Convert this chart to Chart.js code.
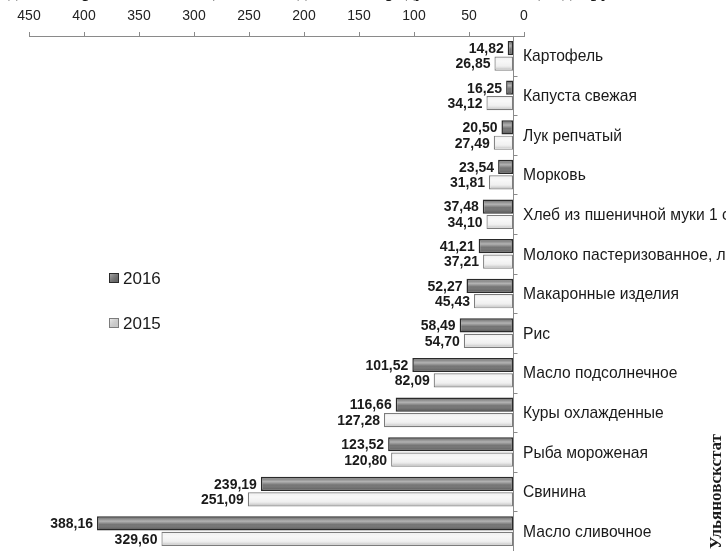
<!DOCTYPE html>
<html lang="ru">
<head>
<meta charset="utf-8">
<title>Цены</title>
<script src="https://cdn.jsdelivr.net/npm/chart.js@4.4.1/dist/chart.umd.min.js"></script>
<style>
  html,body{margin:0;padding:0;background:#fff;}
  #wrap{position:relative;width:726px;height:551px;overflow:hidden;}
</style>
</head>
<body>
<div id="wrap"><canvas id="chart" width="726" height="551"></canvas></div>
<script>
// ---- данные ----
const categories = [
  'Картофель',
  'Капуста свежая',
  'Лук репчатый',
  'Морковь',
  'Хлеб из пшеничной муки 1 сорта',
  'Молоко пастеризованное, литр',
  'Макаронные изделия',
  'Рис',
  'Масло подсолнечное',
  'Куры охлажденные',
  'Рыба мороженая',
  'Свинина',
  'Масло сливочное'
];
const values2016 = [14.82, 16.25, 20.50, 23.54, 37.48, 41.21, 52.27, 58.49, 101.52, 116.66, 123.52, 239.19, 388.16];
const values2015 = [26.85, 34.12, 27.49, 31.81, 34.10, 37.21, 45.43, 54.70, 82.09, 127.28, 120.80, 251.09, 329.60];
const xTickValues = [0, 50, 100, 150, 200, 250, 300, 350, 400, 450];
const seriesLabels = ['2016', '2015'];
const titleText = 'Средние потребительские цены на отдельные продукты на конец года, руб.';
const sourceText = 'Ульяновскстат';

const AXIS_CROSS = 10;   // вертикальная ось пересекает шкалу не в нуле
const FONT = '"Liberation Sans", Arial, sans-serif';

const fmt = v => v.toFixed(2).replace('.', ',');

const COL16 = {fill:'#747474', border:'#2a2a2a'};
const COL15 = {fill:'#f2f2f2', border:'#7c7c7c'};

// подписи значений слева от столбиков
const valueLabels = {
  id:'valueLabels',
  afterDatasetsDraw(chart){
    const ctx = chart.ctx;
    ctx.save();
    // блик/тень на столбиках
    chart.data.datasets.forEach((ds,di)=>{
      chart.getDatasetMeta(di).data.forEach(bar=>{
        const l = Math.min(bar.x, bar.base)+1.5, r = Math.max(bar.x, bar.base)-1.5;
        const t = bar.y-bar.height/2+1.5, b = bar.y+bar.height/2-1.5;
        if(r<=l) return;
        const g = ctx.createLinearGradient(0,t,0,b);
        g.addColorStop(0,'rgba(255,255,255,0.05)');
        g.addColorStop(0.3,'rgba(255,255,255,0.45)');
        g.addColorStop(0.6,'rgba(255,255,255,0.0)');
        g.addColorStop(1,'rgba(0,0,0,0.18)');
        ctx.fillStyle = g;
        ctx.fillRect(l,t,r-l,b-t);
      });
    });
    ctx.font = 'bold 14px '+FONT;
    ctx.fillStyle = '#1a1a1a';
    ctx.textAlign = 'right';
    ctx.textBaseline = 'middle';
    chart.data.datasets.forEach((ds,di)=>{
      chart.getDatasetMeta(di).data.forEach((bar,i)=>{
        ctx.fillText(fmt(ds.data[i]), Math.min(bar.x, bar.base)-4, bar.y+1);
      });
    });
    ctx.restore();
  }
};

// вертикальная ось, подписи категорий, легенда, заголовок, источник
const decor = {
  id:'decor',
  afterDraw(chart){
    const ctx = chart.ctx, xs = chart.scales.x, ys = chart.scales.y, ca = chart.chartArea;
    const x0 = Math.round(xs.getPixelForValue(AXIS_CROSS))+0.5;
    const step = (ca.bottom-ca.top)/categories.length;
    ctx.save();
    ctx.strokeStyle = '#8a8a8a';
    ctx.lineWidth = 1;
    ctx.beginPath();
    ctx.moveTo(x0, ca.top);
    ctx.lineTo(x0, ca.bottom);
    for(let i=1;i<categories.length;i++){
      const y = Math.round(ys.getPixelForValue(i)-step/2)+0.5;
      ctx.moveTo(x0, y); ctx.lineTo(x0+4, y);
    }
    ctx.stroke();

    // подписи категорий
    ctx.fillStyle = '#1a1a1a';
    ctx.font = '17px '+FONT;
    ctx.textAlign = 'left';
    ctx.textBaseline = 'middle';
    categories.forEach((c,i)=>{
      const y = ys.getPixelForValue(i);
      ctx.save();
      ctx.translate(ca.right-1, y+1);
      ctx.scale(0.92,1);
      ctx.fillText(c, 0, 0);
      ctx.restore();
    });

    // легенда
    const leg = [{y:278, c:COL16}, {y:323, c:COL15}];
    ctx.font = '17px '+FONT;
    leg.forEach((l,i)=>{
      ctx.fillStyle = l.c.fill;
      ctx.fillRect(109, l.y-5, 10, 10);
      const g = ctx.createLinearGradient(109,l.y-5,119,l.y+5);
      g.addColorStop(0,'rgba(255,255,255,0.5)');
      g.addColorStop(1,'rgba(0,0,0,0.15)');
      ctx.fillStyle = g;
      ctx.fillRect(109, l.y-5, 10, 10);
      ctx.strokeStyle = l.c.border;
      ctx.strokeRect(109.5, l.y-4.5, 9, 9);
      ctx.fillStyle = '#1a1a1a';
      ctx.fillText(seriesLabels[i], 123, l.y+1);
    });

    // заголовок (виден только низ строки)
    ctx.font = 'bold 19px "Liberation Serif", "DejaVu Serif", serif';
    ctx.textAlign = 'center';
    ctx.textBaseline = 'alphabetic';
    ctx.fillText(titleText, 300, -3);

    // источник
    ctx.font = 'bold 17px "Liberation Serif", "DejaVu Serif", serif';
    ctx.translate(721, 549);
    ctx.rotate(-Math.PI/2);
    ctx.textAlign = 'left';
    ctx.fillText(sourceText, 0, 0);
    ctx.restore();
  }
};

new Chart(document.getElementById('chart'), {
  type:'bar',
  data:{
    labels: categories,
    datasets:[
      {label:seriesLabels[0], data:values2016, base:AXIS_CROSS,
       backgroundColor:COL16.fill, borderColor:COL16.border, borderWidth:1.5, borderSkipped:false},
      {label:seriesLabels[1], data:values2015, base:AXIS_CROSS,
       backgroundColor:COL15.fill, borderColor:COL15.border, borderWidth:1.2, borderSkipped:false}
    ]
  },
  options:{
    indexAxis:'y',
    responsive:false,
    animation:false,
    categoryPercentage:0.78,
    barPercentage:0.92,
    layout:{padding:{left:29, right:0, top:0, bottom:0}},
    scales:{
      x:{
        type:'linear', reverse:true, position:'top', min:0, max:450,
        afterBuildTicks: s => { s.ticks = xTickValues.map(v=>({value:v})); },
        afterFit: s => { s.height = 36; },
        grid:{drawOnChartArea:false, drawTicks:true, tickLength:4, color:'#8a8a8a'},
        border:{color:'#8a8a8a', width:1},
        ticks:{padding:7, color:'#222', font:{family:FONT, size:14}}
      },
      y:{
        type:'category', position:'right',
        afterFit: s => { s.width = 202; },
        grid:{display:false, drawTicks:false},
        border:{display:false},
        ticks:{display:false}
      }
    },
    plugins:{legend:{display:false}, tooltip:{enabled:false}}
  },
  plugins:[valueLabels, decor]
});
</script>
</body>
</html>
